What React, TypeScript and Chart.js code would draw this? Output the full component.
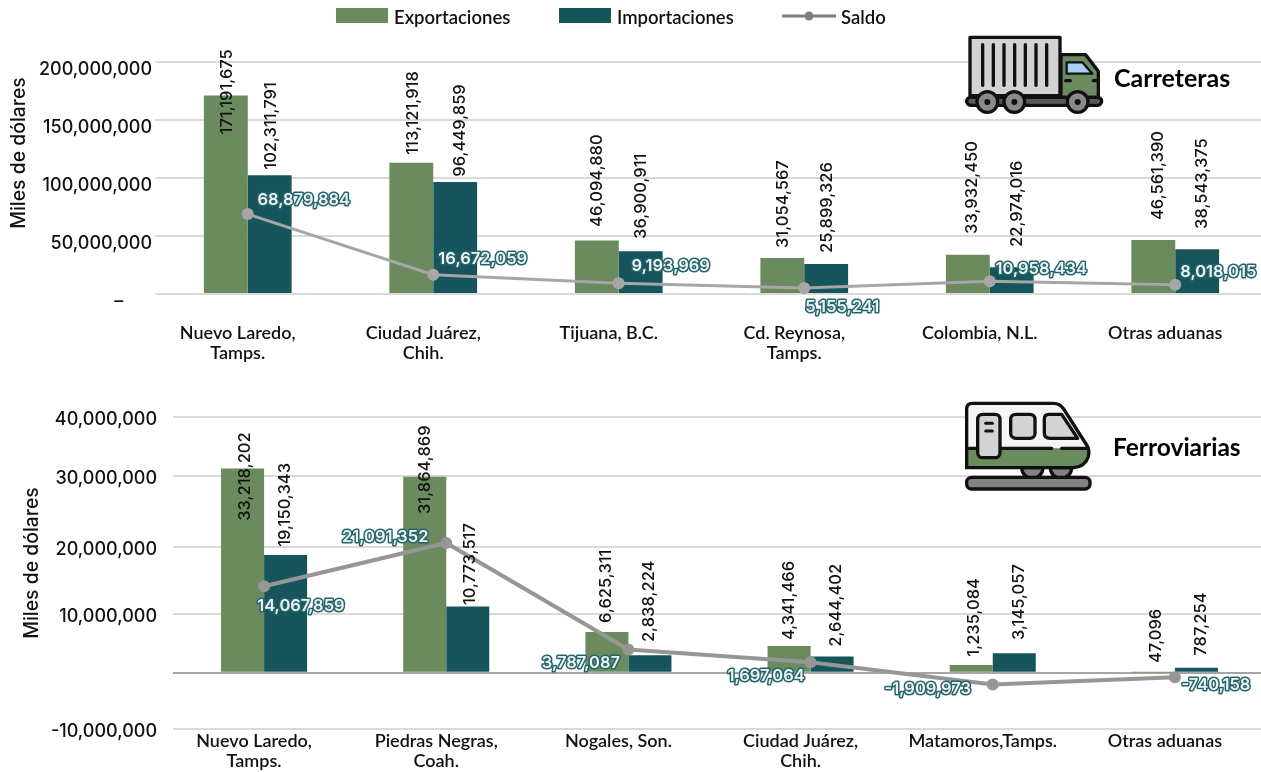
import React, { useEffect, useRef } from "react";
import { Chart, registerables } from "chart.js";

Chart.register(...registerables);

const carreterasCategories = [
  ["Nuevo Laredo,", "Tamps."],
  ["Ciudad Juárez,", "Chih."],
  "Tijuana, B.C.",
  ["Cd. Reynosa,", "Tamps."],
  "Colombia, N.L.",
  "Otras aduanas",
];
const carreterasExportaciones = [171191675, 113121918, 46094880, 31054567, 33932450, 46561390];
const carreterasImportaciones = [102311791, 96449859, 36900911, 25899326, 22974016, 38543375];
const carreterasSaldo = [68879884, 16672059, 9193969, 5155241, 10958434, 8018015];
const carreterasTicks = [0, 50000000, 100000000, 150000000, 200000000];
const carreterasTickLabels = ["–\u00A0\u00A0\u00A0\u00A0\u00A0\u00A0", "50,000,000", "100,000,000", "150,000,000", "200,000,000"];

const ferroCategories = [
  ["Nuevo Laredo,", "Tamps."],
  ["Piedras Negras,", "Coah."],
  "Nogales, Son.",
  ["Ciudad Juárez,", "Chih."],
  "Matamoros,Tamps.",
  "Otras aduanas",
];
const ferroExportaciones = [33218202, 31864869, 6625311, 4341466, 1235084, 47096];
const ferroImportaciones = [19150343, 10773517, 2838224, 2644402, 3145057, 787254];
const ferroSaldo = [14067859, 21091352, 3787087, 1697064, -1909973, -740158];
// The reference's gridlines do not sit at their nominal values; these are where they land on the bars' scale.
const ferroTicks = [-9154000, 0, 9545000, 20440000, 31980000, 41580000];
const ferroTickLabels = ["-10,000,000", "", "10,000,000", "20,000,000", "30,000,000", "40,000,000"];

const GREEN = "#6b8a5e";
const TEAL = "#17555c";
const GRID = "#d9d9d9";
const NUM_FONT = "500 16.5px Inter";
const SALDO_FONT = "600 16.5px Inter";
const TICK_FONT = { family: "Inter", size: 18, weight: 500 as any };
const CAT_FONT = { family: "Lato", size: 18, weight: 600 as any, lineHeight: 1.1 };

const fmt = (v: number) => v.toLocaleString("en-US");

type Place = [number, number][];

const carrExpPlace: Place = [[1, 39], [2, -8], [0, -13.6], [0.6, -10], [4.6, -20.7], [5, -20]];
const carrImpPlace: Place = [[1, -5.6], [4.5, -5.4], [0, -12.3], [1, -11], [5.5, -20.4], [5, -20.4]];
const carrSalPlace: Place = [[56, -14.3], [49.5, -15.7], [52, -17.4], [38, 19], [51.5, -12.3], [43, -12.7]];
const ferrExpPlace: Place = [[2.5, 52.3], [0, 37.3], [-1, -9], [0, -6], [2.5, -8.4], [2.5, -9.4]];
const ferrImpPlace: Place = [[-1, -8.2], [2.5, -1.4], [-0.5, -13.2], [3.5, -9.7], [4.3, -13.4], [4.5, -12.2]];
const ferrSalPlace: Place = [[36.8, 19.8], [-61, -5.7], [-47.5, 13.3], [-44.5, 13.4], [-65, 4.6], [41, 7.8]];

function labelPlugin(
  places: [Place, Place, Place],
  axisTitle: { x: number; y: number },
  panel: { text: string; x: number; y: number; size: number },
  legend: boolean
) {
  return {
    id: "labels" + panel.text,
    afterDatasetsDraw(chart: any) {
      const ctx = chart.ctx as CanvasRenderingContext2D;
      ctx.save();
      [0, 1].forEach((di) => {
        const meta = chart.getDatasetMeta(di);
        const values = chart.data.datasets[di].data as number[];
        meta.data.forEach((el: any, i: number) => {
          const [dx, dy] = places[di][i];
          ctx.save();
          ctx.translate(el.x + dx, el.y + dy);
          ctx.rotate(-Math.PI / 2);
          ctx.font = NUM_FONT;
          ctx.fillStyle = "#111111";
          ctx.textAlign = "left";
          ctx.textBaseline = "middle";
          ctx.fillText(fmt(values[i]), 0, 0);
          ctx.restore();
        });
      });
      const meta = chart.getDatasetMeta(2);
      const values = chart.data.datasets[2].data as number[];
      meta.data.forEach((el: any, i: number) => {
        const [dx, dy] = places[2][i];
        ctx.font = SALDO_FONT;
        ctx.textAlign = "center";
        ctx.textBaseline = "middle";
        ctx.lineJoin = "round";
        ctx.lineWidth = 3;
        ctx.strokeStyle = "#24646c";
        ctx.strokeText(fmt(values[i]), el.x + dx, el.y + dy);
        ctx.fillStyle = "#eef3f3";
        ctx.fillText(fmt(values[i]), el.x + dx, el.y + dy);
      });

      ctx.fillStyle = "#111111";
      ctx.save();
      ctx.translate(axisTitle.x, axisTitle.y);
      ctx.rotate(-Math.PI / 2);
      ctx.font = "500 19.4px Inter";
      ctx.textAlign = "center";
      ctx.textBaseline = "middle";
      ctx.fillText("Miles de dólares", 0, 0);
      ctx.restore();

      ctx.font = `700 ${panel.size}px Lato`;
      ctx.textAlign = "left";
      ctx.textBaseline = "middle";
      ctx.fillStyle = "#000000";
      ctx.fillText(panel.text, panel.x, panel.y);

      if (legend) {
        const ds = chart.data.datasets;
        ctx.font = "600 18.5px Lato";
        ctx.textBaseline = "middle";
        ctx.fillStyle = ds[0].backgroundColor;
        ctx.fillRect(336, 8, 52, 15);
        ctx.fillStyle = ds[1].backgroundColor;
        ctx.fillRect(559, 8, 52, 15);
        ctx.strokeStyle = "#7f7f7f";
        ctx.lineWidth = 3;
        ctx.beginPath();
        ctx.moveTo(782, 16);
        ctx.lineTo(836, 16);
        ctx.stroke();
        ctx.fillStyle = "#7f7f7f";
        ctx.beginPath();
        ctx.arc(809, 16, 4.5, 0, Math.PI * 2);
        ctx.fill();
        ctx.fillStyle = "#111111";
        ctx.fillText(ds[0].label, 394, 18);
        ctx.fillText(ds[1].label, 617, 18);
        ctx.fillText(ds[2].label, 841, 18);
      }
      ctx.restore();
    },
  };
}

function build(
  canvas: HTMLCanvasElement,
  o: {
    categories: any[];
    exp: number[];
    imp: number[];
    sal: number[];
    ticks: number[];
    tickLabels: string[];
    min: number;
    max: number;
    axisW: number;
    xH: number;
    padTop: number;
    tickPad: number;
    yLabelOffset: number;
    xPad: number;
    catPct: number;
    lineColor: string;
    lineW: number;
    zeroColor: string;
    plugin: any;
  }
) {
  return new Chart(canvas, {
    type: "bar",
    data: {
      labels: o.categories,
      datasets: [
        { label: "Exportaciones", data: o.exp, backgroundColor: GREEN, order: 2, categoryPercentage: o.catPct, barPercentage: 1 },
        { label: "Importaciones", data: o.imp, backgroundColor: TEAL, order: 2, categoryPercentage: o.catPct, barPercentage: 1 },
        {
          type: "line",
          label: "Saldo",
          data: o.sal,
          borderColor: o.lineColor,
          backgroundColor: o.lineColor,
          borderWidth: o.lineW,
          pointRadius: 6,
          pointBackgroundColor: o.lineColor,
          pointBorderWidth: 0,
          tension: 0,
          order: 1,
        },
      ] as any,
    },
    plugins: [o.plugin],
    options: {
      responsive: false,
      animation: false,
      layout: { padding: { top: o.padTop, left: 0, right: 0, bottom: 0 } },
      plugins: { legend: { display: false }, tooltip: { enabled: false }, title: { display: false } },
      scales: {
        x: {
          grid: { display: false, drawTicks: false },
          border: { display: false },
          ticks: {
            autoSkip: false,
            maxRotation: 0,
            minRotation: 0,
            padding: o.xPad,
            labelOffset: -10,
            color: "#111111",
            font: CAT_FONT,
          },
          afterFit(s: any) {
            s.height = o.xH;
          },
        },
        y: {
          min: o.min,
          max: o.max,
          grid: {
            color: (c: any) => (c.tick && c.tick.value === 0 ? o.zeroColor : GRID),
            lineWidth: 2,
            drawTicks: false,
          },
          border: { display: false },
          afterBuildTicks(s: any) {
            s.ticks = o.ticks.map((value) => ({ value }));
          },
          afterTickToLabelConversion(s: any) {
            s.ticks.forEach((t: any, i: number) => {
              t.label = o.tickLabels[i];
            });
          },
          ticks: {
            autoSkip: false,
            padding: o.tickPad,
            labelOffset: o.yLabelOffset,
            color: "#111111",
            font: TICK_FONT,
          },
          afterFit(s: any) {
            s.width = o.axisW;
          },
        },
      },
    } as any,
  });
}

function Truck() {
  return (
    <svg style={{ position: "absolute", left: 955, top: 28 }} width={160} height={95} viewBox="0 0 480 285">
      <rect x="45" y="28" width="270" height="175" fill="#d1d3d4" stroke="#111" strokeWidth="10" strokeLinejoin="round" />
      {[83, 115, 147, 179, 211, 243, 275].map((x) => (
        <line key={x} x1={x} x2={x} y1="50" y2="172" stroke="#111" strokeWidth="10" strokeLinecap="round" />
      ))}
      <path d="M318 80 H392 L430 130 V208 H318 Z" fill={GREEN} stroke="#111" strokeWidth="10" strokeLinejoin="round" />
      <path d="M335 103 H382 L412 137 H335 Z" fill="#a5d0f2" stroke="#111" strokeWidth="7" strokeLinejoin="round" />
      <line x1="332" x2="346" y1="158" y2="158" stroke="#111" strokeWidth="10" strokeLinecap="round" />
      <line x1="415" x2="428" y1="158" y2="158" stroke="#111" strokeWidth="10" strokeLinecap="round" />
      <rect x="35" y="208" width="405" height="24" rx="12" fill="#58595b" stroke="#111" strokeWidth="10" />
      {[97, 178, 368].map((x) => (
        <g key={x}>
          <circle cx={x} cy="222" r="31" fill="#8a8a8d" stroke="#111" strokeWidth="10" />
          <circle cx={x} cy="222" r="9" fill="#111" />
        </g>
      ))}
    </svg>
  );
}

function Train() {
  return (
    <svg style={{ position: "absolute", left: 955, top: 395 }} width={150} height={100} viewBox="0 0 450 300">
      <path d="M232 218 m-32 0 a32 32 0 0 0 64 0 Z" fill="#808285" stroke="#111" strokeWidth="10" />
      <path d="M318 218 m-32 0 a32 32 0 0 0 64 0 Z" fill="#808285" stroke="#111" strokeWidth="10" />
      <path d="M52 25 H295 Q315 25 326 42 L395 150 Q405 165 400 185 Q390 216 355 218 H35 V42 Q35 25 52 25 Z" fill="#f4f5f5" />
      <path d="M35 160 H398 Q405 165 400 185 Q390 216 355 218 H35 Z" fill={GREEN} />
      <path d="M52 25 H295 Q315 25 326 42 L395 150 Q405 165 400 185 Q390 216 355 218 H35 V42 Q35 25 52 25 Z" fill="none" stroke="#111" strokeWidth="10" />
      <line x1="35" x2="290" y1="160" y2="160" stroke="#111" strokeWidth="10" strokeLinecap="round" />
      <line x1="320" x2="398" y1="160" y2="160" stroke="#111" strokeWidth="10" strokeLinecap="round" />
      <rect x="68" y="58" width="67" height="130" rx="15" fill="#d1d3d4" stroke="#111" strokeWidth="10" />
      <line x1="92" x2="112" y1="85" y2="85" stroke="#111" strokeWidth="9" strokeLinecap="round" />
      <line x1="92" x2="112" y1="108" y2="108" stroke="#111" strokeWidth="9" strokeLinecap="round" />
      <rect x="167" y="58" width="73" height="72" rx="15" fill="#d1d3d4" stroke="#111" strokeWidth="10" />
      <path d="M282 58 H320 L368 130 H285 Q268 130 268 115 V72 Q268 58 282 58 Z" fill="#d1d3d4" stroke="#111" strokeWidth="10" strokeLinejoin="round" />
      <rect x="35" y="247" width="370" height="35" rx="15" fill="#808285" stroke="#111" strokeWidth="10" />
    </svg>
  );
}

export default function App() {
  const topRef = useRef<HTMLCanvasElement>(null);
  const botRef = useRef<HTMLCanvasElement>(null);

  useEffect(() => {
    const a = build(topRef.current!, {
      categories: carreterasCategories,
      exp: carreterasExportaciones,
      imp: carreterasImportaciones,
      sal: carreterasSaldo,
      ticks: carreterasTicks,
      tickLabels: carreterasTickLabels,
      min: 0,
      max: 200000000,
      axisW: 155,
      xH: 91,
      padTop: 62,
      tickPad: 3,
      yLabelOffset: 8,
      xPad: 29,
      catPct: 0.473,
      lineColor: "#a6a6a6",
      lineW: 3,
      zeroColor: GRID,
      plugin: labelPlugin(
        [carrExpPlace, carrImpPlace, carrSalPlace],
        { x: 19, y: 153 },
        { text: "Carreteras", x: 1114, y: 79, size: 25 },
        true
      ),
    });
    const b = build(botRef.current!, {
      categories: ferroCategories,
      exp: ferroExportaciones,
      imp: ferroImportaciones,
      sal: ferroSaldo,
      ticks: ferroTicks,
      tickLabels: ferroTickLabels,
      min: -9154000,
      max: 41580000,
      axisW: 173,
      xH: 43,
      padTop: 32,
      tickPad: 16,
      yLabelOffset: 3,
      xPad: 2,
      catPct: 0.4725,
      lineColor: "#969696",
      lineW: 4,
      zeroColor: "#a6a6a6",
      plugin: labelPlugin(
        [ferrExpPlace, ferrImpPlace, ferrSalPlace],
        { x: 32, y: 178 },
        { text: "Ferroviarias", x: 1113, y: 63, size: 24.5 },
        false
      ),
    });
    return () => {
      a.destroy();
      b.destroy();
    };
  }, []);

  return (
    <div style={{ position: "fixed", left: 0, top: 0, width: 1261, height: 772, overflow: "hidden", background: "#fff" }}>
      <div style={{ position: "absolute", left: 0, top: 0, width: 1300, height: 385 }}>
        <canvas ref={topRef} width={1274} height={385} style={{ display: "block" }} />
      </div>
      <div style={{ position: "absolute", left: 0, top: 385, width: 1300, height: 387 }}>
        <canvas ref={botRef} width={1272} height={387} style={{ display: "block" }} />
      </div>
      <Truck />
      <Train />
    </div>
  );
}
